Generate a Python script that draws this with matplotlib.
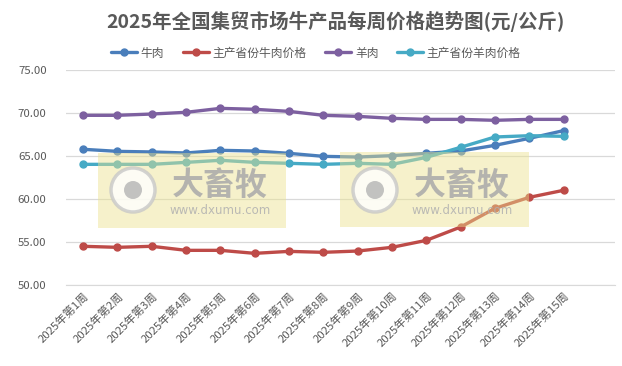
import matplotlib.pyplot as plt
from matplotlib.patches import Rectangle, Circle

plt.rcParams['font.family'] = ['Noto Sans CJK SC', 'DejaVu Sans']

weeks = [f"2025年第{i}周" for i in range(1, 16)]
beef = [65.78, 65.54, 65.47, 65.35, 65.66, 65.58, 65.31, 64.96, 64.88, 65.04,
        65.31, 65.58, 66.24, 67.05, 67.95]
beef_main = [54.50, 54.38, 54.50, 54.03, 54.03, 53.68, 53.91, 53.80, 53.95, 54.38,
             55.19, 56.74, 58.91, 60.19, 61.01]
mutton = [69.73, 69.73, 69.88, 70.08, 70.54, 70.43, 70.19, 69.73, 69.61, 69.38,
          69.26, 69.26, 69.15, 69.26, 69.26]
mutton_main = [64.03, 64.03, 64.03, 64.26, 64.50, 64.26, 64.15, 64.03, 64.15, 64.03,
               64.84, 66.01, 67.21, 67.36, 67.29]

series = [
    ("牛肉", beef, "#4a7ebb"),
    ("主产省份牛肉价格", beef_main, "#be4b48"),
    ("羊肉", mutton, "#7d60a0"),
    ("主产省份羊肉价格", mutton_main, "#46aac5"),
]

W, H = 622, 366
fig = plt.figure(figsize=(W / 100, H / 100), dpi=100)
ax = fig.add_axes([66 / W, 1 - 285 / H, (615 - 66) / W, (285 - 70) / H])

x = list(range(len(weeks)))
for name, vals, col in series:
    ax.plot(x, vals, color=col, lw=2.4, marker="o", ms=5, label=name,
            solid_capstyle="round")

ax.set_xlim(-0.5, 15.5)
ax.set_ylim(50, 75)
ax.set_yticks([50, 55, 60, 65, 70, 75])
ax.set_yticklabels([f"{v:.2f}" for v in [50, 55, 60, 65, 70, 75]])
ax.set_xticks(x)
ax.set_xticklabels(weeks, rotation=45, ha="right", rotation_mode="anchor")
ax.tick_params(axis="both", length=0, colors="#595959", labelsize=8.2)
ax.tick_params(axis="y", pad=14)
ax.tick_params(axis="x", pad=4)
ax.grid(axis="y", color="#d9d9d9", lw=0.9)
ax.set_axisbelow(True)
for s in ["top", "right", "left"]:
    ax.spines[s].set_visible(False)
ax.spines["bottom"].set_color("#d9d9d9")

fig.text(335 / W, 1 - 21 / H, "2025年全国集贸市场牛产品每周价格趋势图(元/公斤)",
         ha="center", va="center", fontsize=14, fontweight="bold", color="#595959")

fig.legend(loc="center", bbox_to_anchor=(316 / W, 1 - 53 / H), ncol=4, frameon=False,
           fontsize=8.5, handlelength=2.2, columnspacing=1.6, handletextpad=0.3,
           labelcolor="#595959")

# watermark
def px(xp, yp):
    return xp / W, 1 - yp / H

for x0, x1, y0, y1 in [(98, 286, 153, 228), (340, 529, 152, 227)]:
    fx, fy = px(x0, y1)
    fig.patches.append(Rectangle((fx, fy), (x1 - x0) / W, (y1 - y0) / H,
                                 transform=fig.transFigure, facecolor="#ece28c",
                                 alpha=0.45, edgecolor="none", zorder=5))
    cx, cy = px(x0 + 35, 190)
    fig.patches.append(Circle((cx * W, cy * H), 22, transform=None, facecolor="white",
                              edgecolor="#c8c8c8", lw=2.5, alpha=0.8, zorder=6))
    fig.patches.append(Circle((cx * W, cy * H), 9, transform=None, facecolor="#b4b4b4",
                              edgecolor="none", alpha=0.8, zorder=7))
    tx, ty = px(x0 + 122, 186)
    fig.text(tx, ty, "大畜牧", ha="center", va="center", fontsize=23, fontweight="bold",
             color="#a9a9a9", alpha=0.85, zorder=8)
    tx, ty = px(x0 + 122, 210)
    fig.text(tx, ty, "www.dxumu.com", ha="center", va="center", fontsize=8.5,
             family="DejaVu Sans", color="#b0b0b0", alpha=0.85, zorder=8)

fig.savefig("out.png", dpi=100)
